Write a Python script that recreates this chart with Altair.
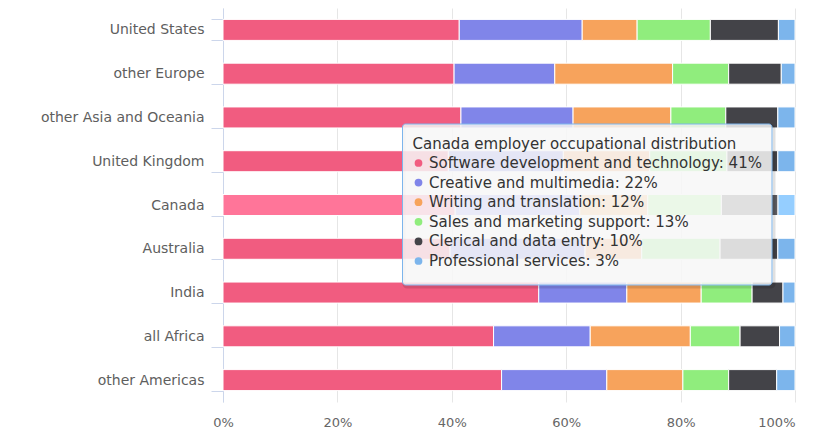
import altair as alt
import pandas as pd

countries = ["United States", "other Europe", "other Asia and Oceania", "United Kingdom",
             "Canada", "Australia", "India", "all Africa", "other Americas"]
series = ["Software development and technology", "Creative and multimedia",
          "Writing and translation", "Sales and marketing support",
          "Clerical and data entry", "Professional services"]
colors = ["#f15c80", "#8085e9", "#f7a35c", "#90ed7d", "#434348", "#7cb5ec"]
hover_colors = ["#ff7599", "#999eff", "#ffbc75", "#a9ff96", "#5c5c61", "#95ceff"]

software = [41.3, 40.4, 41.6, 39.4, 41, 39.7, 55.2, 47.3, 48.7]
creative = [21.5, 17.6, 19.6, 20.1, 22, 23.6, 15.4, 16.9, 18.4]
writing = [9.6, 20.6, 17.1, 15.1, 12, 9.9, 13.0, 17.5, 13.3]
sales = [12.8, 9.8, 9.6, 13.5, 13, 13.7, 8.9, 8.7, 8.0]
clerical = [11.9, 9.2, 9.1, 8.9, 10, 10.1, 5.4, 6.9, 8.4]
professional = [2.9, 2.4, 3.0, 3.0, 3, 3.0, 2.1, 2.7, 3.2]
hovered = "Canada"
tooltip_title = "Canada employer occupational distribution"

values = [software, creative, writing, sales, clerical, professional]

rows = []
for si, (name, vals) in enumerate(zip(series, values)):
    for c, v in zip(countries, vals):
        rows.append({
            "country": c, "series": name, "value": v, "sidx": si,
            "color": hover_colors[si] if c == hovered else colors[si],
        })
df = pd.DataFrame(rows)

FONT = "DejaVu Sans"

bars = alt.Chart(df).mark_bar(stroke="white", strokeWidth=1).encode(
    y=alt.Y("country:N", sort=countries,
            scale=alt.Scale(paddingInner=0.52, paddingOuter=0.26),
            axis=alt.Axis(title=None, domainColor="#ccd6eb", tickColor="#ccd6eb",
                          tickSize=12, tickBand="extent", labelPadding=7,
                          labelColor="#5e5e5e", labelFontSize=14, labelFont=FONT,
                          grid=False)),
    x=alt.X("value:Q", stack="normalize",
            scale=alt.Scale(domain=[0, 1], nice=False),
            axis=alt.Axis(title=None, format=".0%", values=[0, 0.2, 0.4, 0.6, 0.8, 1],
                          domain=False, ticks=False, tickSize=0, grid=True,
                          gridColor="#e6e6e6", labelColor="#666666", labelFontSize=13,
                          labelFont=FONT, labelPadding=14,
                          labelAlign=alt.condition("datum.value == 1",
                                                   alt.value("right"),
                                                   alt.value("center")))),
    color=alt.Color("color:N", scale=None),
    order=alt.Order("sidx:Q"),
)

# tooltip overlay (Canada)
tip_df = pd.DataFrame({"k": [0]})
shadow = alt.Chart(tip_df).mark_rect(
    fill=None, stroke="black", strokeOpacity=0.12, strokeWidth=3, cornerRadius=3
).encode(x=alt.value(181), x2=alt.value(551), y=alt.value(118), y2=alt.value(279))
box = alt.Chart(tip_df).mark_rect(
    fill="#f7f7f7", fillOpacity=0.85, stroke="#7cb5ec", strokeWidth=1, cornerRadius=3
).encode(x=alt.value(179.5), x2=alt.value(549), y=alt.value(116), y2=alt.value(277))
title = alt.Chart(tip_df).mark_text(
    text=tooltip_title, align="left", baseline="middle", font=FONT, fontSize=15,
    color="#333333"
).encode(x=alt.value(189.5), y=alt.value(135.5))

ci = countries.index(hovered)
line_df = pd.DataFrame({
    "i": list(range(len(series))),
    "label": [f"{s}: {round(v[ci])}%" for s, v in zip(series, values)],
    "color": colors,
})
line_base = alt.Chart(line_df).transform_calculate(ty="155 + datum.i * 19.6")
bullets = line_base.mark_point(filled=True, shape="circle", size=60, opacity=1).encode(
    x=alt.value(195.5), y=alt.Y("ty:Q", scale=None), color=alt.Color("color:N", scale=None)
)
lines = line_base.mark_text(align="left", baseline="middle", font=FONT, fontSize=15,
                            color="#333333").encode(
    x=alt.value(206), y=alt.Y("ty:Q", scale=None), text="label:N"
)

chart = alt.layer(bars, shadow, box, title, bullets, lines).properties(
    width=572, height=394,
    autosize=alt.AutoSizeParams(type="none"),
    padding={"left": 215, "top": 0, "right": 17, "bottom": 26},
).configure_view(stroke=None)

chart.save("out.html", embed_options={"renderer": "svg", "actions": False})
